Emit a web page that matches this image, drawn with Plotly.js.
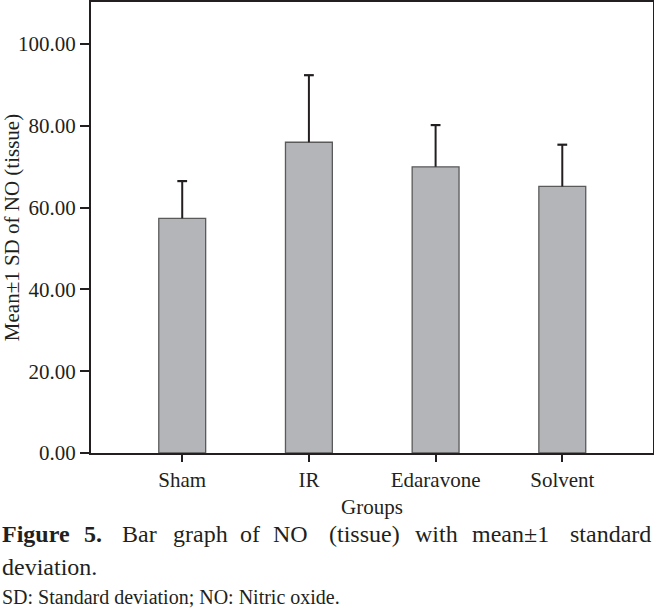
<!DOCTYPE html>
<html>
<head>
<meta charset="utf-8">
<script src="https://cdn.plot.ly/plotly-3.0.1.min.js"></script>
<style>html,body{margin:0;padding:0;background:#fff;}#chart{width:654px;height:608px;}</style>
</head>
<body>
<div id="chart"></div>
<script>
// Data
const groups = ["Sham", "IR", "Edaravone", "Solvent"];
const meanNO = [57.4, 76.0, 70.0, 65.2];
const sdNO = [9.1, 16.4, 10.2, 10.2];
const yTickVals = [0, 20, 40, 60, 80, 100];
const yTickText = ["0.00", "20.00", "40.00", "60.00", "80.00", "100.00"];

const W = 654, H = 608;
const M = {l: 91, r: 1, t: 2, b: 154.5};
const plotW = W - M.l - M.r, plotH = H - M.t - M.b;
const px = x => (x - M.l) / plotW;
const py = y => (H - M.b - y) / plotH;

const ink = "#231f20";
const serif = "'Liberation Serif', 'Times New Roman', serif";

const bars = {
  type: "bar",
  x: groups,
  y: meanNO,
  width: 0.37,
  marker: {color: "#b4b5b9", line: {color: "#5a5a5a", width: 1.3}},
  hoverinfo: "none"
};

// upper-only error bars (mean to mean + 1 SD), capped at the top
const errX = [], errY = [];
groups.forEach((g, i) => { errX.push(g, g, null); errY.push(meanNO[i], meanNO[i] + sdNO[i], null); });
const errLines = {
  type: "scatter", mode: "lines", x: errX, y: errY,
  line: {color: ink, width: 2}, hoverinfo: "none", connectgaps: false
};
const errCaps = {
  type: "scatter", mode: "markers", x: groups, y: meanNO.map((m, i) => m + sdNO[i]),
  marker: {symbol: "line-ew", size: 7, color: ink, line: {color: ink, width: 2.2}},
  hoverinfo: "none"
};

// caption words (line 1 is justified in the reference)
const line1 = [
  {t: "<b>Figure</b>", x: 0}, {t: "<b>5.</b>", x: 82}, {t: "Bar", x: 120}, {t: "graph", x: 171},
  {t: "of", x: 238}, {t: "NO", x: 271}, {t: "(tissue)", x: 327}, {t: "with", x: 413},
  {t: "mean±1", x: 470}
];
const ann = line1.map(w => ({
  text: w.t, xref: "paper", yref: "paper", x: px(w.x), y: py(535), xanchor: "left", yanchor: "middle",
  showarrow: false, font: {family: serif, size: 24, color: ink}
}));
ann.push({text: "standard", xref: "paper", yref: "paper", x: px(653), y: py(535), xanchor: "right", yanchor: "middle",
  showarrow: false, font: {family: serif, size: 24, color: ink}});
ann.push({text: "deviation.", xref: "paper", yref: "paper", x: px(0), y: py(568), xanchor: "left", yanchor: "middle",
  showarrow: false, font: {family: serif, size: 24, color: ink}});
ann.push({text: "SD: Standard deviation; NO: Nitric oxide.", xref: "paper", yref: "paper", x: px(0), y: py(598),
  xanchor: "left", yanchor: "middle", showarrow: false, font: {family: serif, size: 20, color: ink}});

const layout = {
  width: W, height: H,
  margin: M,
  paper_bgcolor: "#fff", plot_bgcolor: "#fff",
  showlegend: false,
  font: {family: serif, color: ink, size: 21},
  xaxis: {
    type: "category", categoryarray: groups, range: [-0.72, 3.716], fixedrange: true,
    showline: true, linecolor: ink, linewidth: 2, mirror: true,
    ticks: "outside", ticklen: 7, tickwidth: 2, tickcolor: ink,
    tickfont: {family: serif, size: 21, color: ink},
    showgrid: false, zeroline: false,
    title: {text: "Groups", font: {family: serif, size: 21, color: ink}, standoff: 8}
  },
  yaxis: {
    range: [0, 110.3], fixedrange: true,
    tickvals: yTickVals, ticktext: yTickText,
    showline: true, linecolor: ink, linewidth: 2, mirror: true,
    ticks: "outside", ticklen: 9, tickwidth: 2, tickcolor: ink,
    tickfont: {family: serif, size: 21, color: ink},
    showgrid: false, zeroline: false,
    title: {text: "Mean±1 SD of NO (tissue)", font: {family: serif, size: 21, color: ink}, standoff: 4}
  },
  annotations: ann
};

Plotly.newPlot("chart", [bars, errLines, errCaps], layout, {displayModeBar: false, staticPlot: true});
</script>
</body>
</html>
